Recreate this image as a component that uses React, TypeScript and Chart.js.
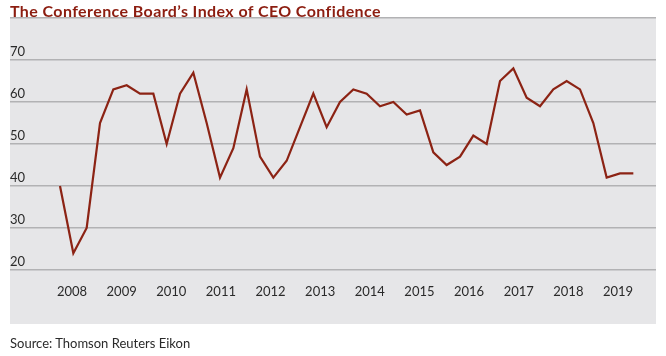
import React, { useEffect, useRef } from "react";
import { Chart, registerables } from "chart.js";

Chart.register(...registerables);

const quarters = [
  "2008 Q3", "2008 Q4",
  "2009 Q1", "2009 Q2", "2009 Q3", "2009 Q4",
  "2010 Q1", "2010 Q2", "2010 Q3", "2010 Q4",
  "2011 Q1", "2011 Q2", "2011 Q3", "2011 Q4",
  "2012 Q1", "2012 Q2", "2012 Q3", "2012 Q4",
  "2013 Q1", "2013 Q2", "2013 Q3", "2013 Q4",
  "2014 Q1", "2014 Q2", "2014 Q3", "2014 Q4",
  "2015 Q1", "2015 Q2", "2015 Q3", "2015 Q4",
  "2016 Q1", "2016 Q2", "2016 Q3", "2016 Q4",
  "2017 Q1", "2017 Q2", "2017 Q3", "2017 Q4",
  "2018 Q1", "2018 Q2", "2018 Q3", "2018 Q4",
  "2019 Q1", "2019 Q2",
];

const ceoConfidence = [
  40, 24,
  30, 55, 63, 64,
  62, 62, 50, 62,
  67, 55, 42, 49,
  63, 47, 42, 46,
  54, 62, 54, 60,
  63, 62, 59, 60,
  57, 58, 48, 45,
  47, 52, 50, 65,
  68, 61, 59, 63,
  65, 63, 55, 42,
  43, 43,
];

const yearLabels = [
  "2008", "2009", "2010", "2011", "2012", "2013",
  "2014", "2015", "2016", "2017", "2018", "2019",
];

const yTicks = [20, 30, 40, 50, 60, 70, 80];

const FONT = "Lato, 'Open Sans', sans-serif";

const panelPlugin = {
  id: "panel",
  beforeDraw(chart: any) {
    const { ctx, chartArea } = chart;
    ctx.save();
    ctx.fillStyle = "#e6e6e8";
    ctx.fillRect(
      chartArea.left,
      chartArea.top,
      chartArea.right - chartArea.left,
      chartArea.bottom + 54 - chartArea.top
    );
    ctx.restore();
  },
};

export default function App() {
  const ref = useRef<HTMLCanvasElement>(null);

  useEffect(() => {
    if (!ref.current) return;
    const chart = new Chart(ref.current, {
      type: "line",
      data: {
        labels: quarters,
        datasets: [
          {
            label: "CEO Confidence",
            data: ceoConfidence.map((v, i) => ({ x: i, y: v })),
            borderColor: "#8c2314",
            borderWidth: 2.2,
            pointRadius: 0,
            tension: 0,
            fill: false,
            xAxisID: "x",
            yAxisID: "y",
          },
        ],
      },
      options: {
        animation: false,
        responsive: false,
        maintainAspectRatio: false,
        layout: { padding: { top: 18, left: 10, right: 10, bottom: 46 } },
        plugins: {
          legend: { display: false },
          tooltip: { enabled: false },
          title: { display: false },
        },
        scales: {
          x: {
            type: "linear",
            display: false,
            min: -3.75,
            max: 44.7,
          },
          x2: {
            type: "linear",
            position: "bottom",
            min: 2006.751,
            max: 2019.766,
            grid: { display: false, drawTicks: false },
            border: { display: false },
            afterBuildTicks: (scale: any) => {
              scale.ticks = yearLabels.map((y) => ({ value: Number(y) }));
            },
            afterFit: (scale: any) => {
              scale.height = 40;
            },
            ticks: {
              autoSkip: false,
              maxRotation: 0,
              padding: 14,
              color: "#2a2a2a",
              font: { family: FONT, size: 13 },
              callback: (v: any) => String(v),
            },
          },
          y: {
            type: "linear",
            min: 20,
            max: 80,
            afterBuildTicks: (scale: any) => {
              scale.ticks = yTicks.map((v) => ({ value: v }));
            },
            afterFit: (scale: any) => {
              scale.width = 0;
            },
            grid: {
              color: "#b2b2b4",
              lineWidth: 1.5,
              drawTicks: false,
            },
            border: { display: false },
            ticks: {
              mirror: true,
              padding: 0,
              labelOffset: -8,
              color: "#2a2a2a",
              font: { family: FONT, size: 13 },
              callback: (v: any) => (v === 80 ? "" : String(v)),
            },
          },
        },
      },
      plugins: [panelPlugin],
    });
    return () => chart.destroy();
  }, []);

  return (
    <div
      style={{
        position: "fixed",
        left: 0,
        top: 0,
        width: 666,
        height: 356,
        background: "#ffffff",
        fontFamily: FONT,
      }}
    >
      <canvas
        ref={ref}
        width={666}
        height={356}
        style={{ position: "absolute", left: 0, top: 0, width: 666, height: 356 }}
      />
      <div
        style={{
          position: "absolute",
          left: 10,
          top: 1,
          fontSize: 16,
          lineHeight: "19px",
          letterSpacing: "0.4px",
          fontWeight: 700,
          color: "#8c1d10",
          whiteSpace: "nowrap",
        }}
      >
        The Conference Board’s Index of CEO Confidence
      </div>
      <div
        style={{
          position: "absolute",
          left: 10,
          top: 335,
          fontSize: 13,
          lineHeight: "16px",
          color: "#2a2a2a",
          whiteSpace: "nowrap",
        }}
      >
        Source: Thomson Reuters Eikon
      </div>
    </div>
  );
}
